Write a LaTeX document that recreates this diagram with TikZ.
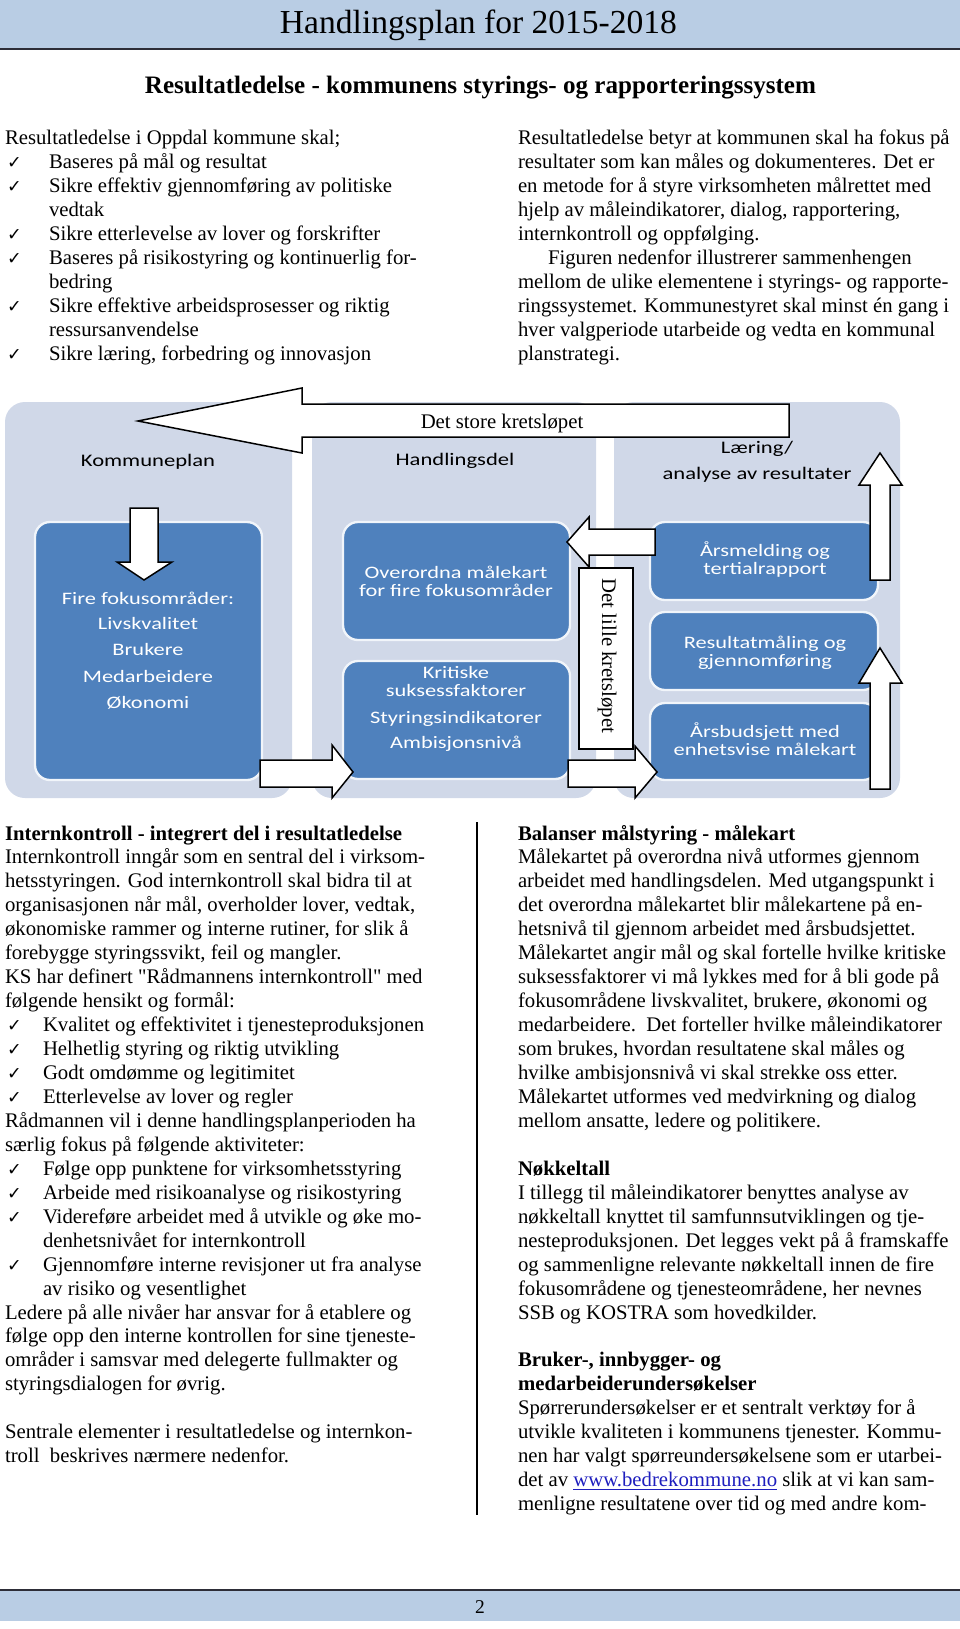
\documentclass[tikz,border=0pt]{standalone}
\usepackage{fontspec}
\setmainfont{Liberation Serif}
\newfontface\qf{Liberation Serif}[Ligatures=TeXOff]
\newfontfamily\dg[FakeStretch=1.28]{Carlito}
\newfontfamily\sym{DejaVu Sans}
\definecolor{hdr}{RGB}{185,205,228}
\definecolor{hdrline}{RGB}{45,45,55}
\definecolor{panel}{RGB}{208,216,232}
\definecolor{boxb}{RGB}{79,129,189}
\definecolor{lnk}{RGB}{30,30,190}
\newlength\U \setlength\U{0.6pt}
\newcommand\bodyfs{\fontsize{12.45pt}{14.46pt}\selectfont}
\newcommand\bodyfsB{\fontsize{12.45pt}{14.37pt}\selectfont}
\newcommand\ckmark{{\sym\fontsize{10.5pt}{10pt}\selectfont ✓}}
\newcommand\ckA{\makebox[44\U][l]{\hspace{2\U}\ckmark}}
\newcommand\indA{\hspace*{44\U}}
\newcommand\ckB{\makebox[38\U][l]{\hspace{2\U}\ckmark}}
\newcommand\indB{\hspace*{38\U}}
\newcommand\sq{{\qf"}}
\newcounter{tn}
\newcommand\bt[3]{\stepcounter{tn}\node[btxt] (bt\arabic{tn}) at (#1,#2) {#3};}
\tikzset{
  txt/.style={anchor=base west, inner sep=0pt, outer sep=0pt},
  btxt/.style={anchor=base, inner sep=0pt, text=white, font=\dg\fontsize{10.5pt}{12pt}\selectfont},
  lbl/.style={anchor=base, inner sep=0pt, text=black, font=\dg\fontsize{10.6pt}{12pt}\selectfont},
  panelbox/.style={fill=panel, rounded corners=12pt},
  bluebox/.style={fill=boxb, draw=white!92!boxb, line width=1.4pt, rounded corners=9pt},
  blockarrow/.style={fill=white, draw=black, line width=0.9pt, line join=miter},
}
\begin{document}
\begin{tikzpicture}[x=0.6pt, y=-0.6pt]
\useasboundingbox (0,0) rectangle (960,1629);
\fill[white] (0,0) rectangle (960,1629);
% header
\fill[hdr] (0,0) rectangle (960,48);
\draw[hdrline, line width=1.2pt] (0,49) -- (960,49);
\node[anchor=base, inner sep=0] (title) at (478.5,33) {\resizebox{397\U}{!}{Handlingsplan for 2015-2018}};
\node[anchor=base, inner sep=0] (heading) at (480.5,93) {\resizebox{671\U}{!}{\bfseries Resultatledelse - kommunens styrings- og rapporteringssystem}};
% upper text
\node[txt] (ul) at (5,144) {\parbox[t]{480\U}{\bodyfs\raggedright
Resultatledelse i Oppdal kommune skal;\\
\ckA Baseres på mål og resultat\\
\ckA Sikre effektiv gjennomføring av politiske\\
\indA vedtak\\
\ckA Sikre etterlevelse av lover og forskrifter\\
\ckA Baseres på risikostyring og kontinuerlig for-\\
\indA bedring\\
\ckA Sikre effektive arbeidsprosesser og riktig\\
\indA ressursanvendelse\\
\ckA Sikre læring, forbedring og innovasjon}};
\node[txt] (ur) at (518,144) {\parbox[t]{480\U}{\bodyfs\raggedright
Resultatledelse betyr at kommunen skal ha fokus på\\
resultater som kan måles og dokumenteres. Det er\\
en metode for å styre virksomheten målrettet med\\
hjelp av måleindikatorer, dialog, rapportering,\\
internkontroll og oppfølging.\\
\hspace*{30\U}Figuren nedenfor illustrerer sammenhengen\\
mellom de ulike elementene i styrings- og rapporte-\\
ringssystemet. Kommunestyret skal minst én gang i\\
hver valgperiode utarbeide og vedta en kommunal\\
planstrategi.}};
% diagram panels
\fill[panelbox] (5,402) rectangle (292,798);
\fill[panelbox] (312,402) rectangle (596,798);
\fill[panelbox] (614,402) rectangle (900,798);
% blue boxes
\draw[bluebox] (35,522) rectangle (262,780);
\draw[bluebox] (343,522) rectangle (570,640);
\draw[bluebox] (343,661) rectangle (570,779);
\draw[bluebox] (650,522) rectangle (878,600);
\draw[bluebox] (650,612) rectangle (878,690);
\draw[bluebox] (650,703) rectangle (878,780);
% labels
\node[lbl] (kp) at (148,466) {Kommuneplan};
\node[lbl] (hd) at (455,465) {Handlingsdel};
\node[lbl] (la1) at (757,453) {Læring/};
\node[lbl] (la2) at (757,479) {analyse av resultater};
% box texts
\bt{148}{604}{Fire fokusområder:}
\bt{148}{629}{Livskvalitet}
\bt{148}{655}{Brukere}
\bt{148}{682}{Medarbeidere}
\bt{148}{708}{Økonomi}
\bt{456}{578}{Overordna målekart}
\bt{456}{596}{for fire fokusområder}
\bt{456}{678}{Kritiske}
\bt{456}{696}{suksessfaktorer}
\bt{456}{723}{Styringsindikatorer}
\bt{456}{748}{Ambisjonsnivå}
\bt{765}{556}{Årsmelding og}
\bt{765}{574}{tertialrapport}
\bt{765}{648}{Resultatmåling og}
\bt{765}{666}{gjennomføring}
\bt{765}{737}{Årsbudsjett med}
\bt{765}{755}{enhetsvise målekart}
% down arrow in box 1
\draw[blockarrow] (130,508) -- (158,508) -- (158,562) -- (172,562) -- (144,580) -- (117,562) -- (130,562) -- cycle;
% small circuit text box
\draw[fill=white, draw=black, line width=0.9pt] (579,568) rectangle (633,749);
\node[rotate=-90, inner sep=0, font=\bodyfs] (lille) at (607,656) {Det lille kretsløpet};
% block arrows
\draw[blockarrow] (789,404) -- (302,404) -- (302,388) -- (138,421) -- (302,453) -- (302,437) -- (789,437) -- cycle;
\node[anchor=base, inner sep=0, font=\bodyfs] (store) at (502,428) {Det store kretsløpet};
\draw[blockarrow] (260,760) -- (332,760) -- (332,745) -- (353,772) -- (332,798) -- (332,787) -- (260,787) -- cycle;
\draw[blockarrow] (655,529) -- (589,529) -- (589,517) -- (567,542) -- (589,567) -- (589,555) -- (655,555) -- cycle;
\draw[blockarrow] (568,760) -- (635,760) -- (635,746) -- (657,772) -- (635,798) -- (635,787) -- (568,787) -- cycle;
\draw[blockarrow] (870,580) -- (870,485) -- (859,485) -- (880,453) -- (902,485) -- (890,485) -- (890,580) -- cycle;
\draw[blockarrow] (870,789) -- (870,683) -- (859,683) -- (880,648) -- (902,683) -- (890,683) -- (890,789) -- cycle;
% divider
\draw[black, line width=1.2pt] (477,822) -- (477,1515);
% lower text
\node[txt] (ll) at (5,840) {\parbox[t]{480\U}{\bodyfsB\raggedright
{\bfseries Internkontroll - integrert del i resultatledelse}\\
Internkontroll inngår som en sentral del i virksom-\\
hetsstyringen. God internkontroll skal bidra til at\\
organisasjonen når mål, overholder lover, vedtak,\\
økonomiske rammer og interne rutiner, for slik å\\
forebygge styringssvikt, feil og mangler.\\
KS har definert \sq Rådmannens internkontroll\sq{} med\\
følgende hensikt og formål:\\
\ckB Kvalitet og effektivitet i tjenesteproduksjonen\\
\ckB Helhetlig styring og riktig utvikling\\
\ckB Godt omdømme og legitimitet\\
\ckB Etterlevelse av lover og regler\\
Rådmannen vil i denne handlingsplanperioden ha\\
særlig fokus på følgende aktiviteter:\\
\ckB Følge opp punktene for virksomhetsstyring\\
\ckB Arbeide med risikoanalyse og risikostyring\\
\ckB Videreføre arbeidet med å utvikle og øke mo-\\
\indB denhetsnivået for internkontroll\\
\ckB Gjennomføre interne revisjoner ut fra analyse\\
\indB av risiko og vesentlighet\\
Ledere på alle nivåer har ansvar for å etablere og\\
følge opp den interne kontrollen for sine tjeneste-\\
områder i samsvar med delegerte fullmakter og\\
styringsdialogen for øvrig.\\[\baselineskip]
Sentrale elementer i resultatledelse og internkon-\\
troll\ \ beskrives nærmere nedenfor.}};
\node[txt] (lr) at (518,840) {\parbox[t]{480\U}{\bodyfsB\raggedright
{\bfseries Balanser målstyring - målekart}\\
Målekartet på overordna nivå utformes gjennom\\
arbeidet med handlingsdelen. Med utgangspunkt i\\
det overordna målekartet blir målekartene på en-\\
hetsnivå til gjennom arbeidet med årsbudsjettet.\\
Målekartet angir mål og skal fortelle hvilke kritiske\\
suksessfaktorer vi må lykkes med for å bli gode på\\
fokusområdene livskvalitet, brukere, økonomi og\\
medarbeidere.\ \ Det forteller hvilke måleindikatorer\\
som brukes, hvordan resultatene skal måles og\\
hvilke ambisjonsnivå vi skal strekke oss etter.\\
Målekartet utformes ved medvirkning og dialog\\
mellom ansatte, ledere og politikere.\\[\baselineskip]
{\bfseries Nøkkeltall}\\
I tillegg til måleindikatorer benyttes analyse av\\
nøkkeltall knyttet til samfunnsutviklingen og tje-\\
nesteproduksjonen. Det legges vekt på å framskaffe\\
og sammenligne relevante nøkkeltall innen de fire\\
fokusområdene og tjenesteområdene, her nevnes\\
SSB og KOSTRA som hovedkilder.\\[\baselineskip]
{\bfseries Bruker-, innbygger- og}\\
{\bfseries medarbeiderundersøkelser}\\
Spørrerundersøkelser er et sentralt verktøy for å\\
utvikle kvaliteten i kommunens tjenester. Kommu-\\
nen har valgt spørreundersøkelsene som er utarbei-\\
det av {\color{lnk}\underline{www.bedrekommune.no}} slik at vi kan sam-\\
menligne resultatene over tid og med andre kom-}};
% footer
\draw[hdrline, line width=1.2pt] (0,1590) -- (960,1590);
\fill[hdr] (0,1591) rectangle (960,1621);
\node[anchor=base, inner sep=0, font=\fontsize{11.7pt}{12pt}\selectfont] (pg) at (480,1613) {2};
\end{tikzpicture}
\end{document}
